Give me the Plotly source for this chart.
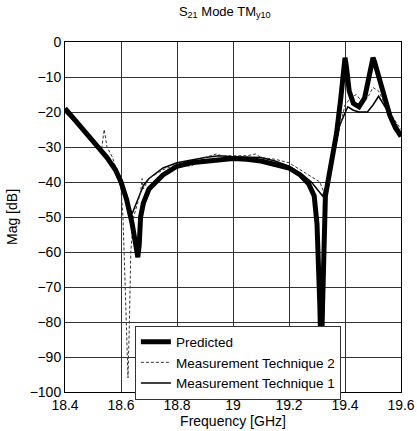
import plotly.graph_objects as go

# Predicted
pred_f = [18.40, 18.45, 18.50, 18.55, 18.58, 18.60, 18.62, 18.64, 18.655, 18.66, 18.665, 18.67,
          18.68, 18.70, 18.75, 18.80, 18.85, 18.90, 18.95, 19.00, 19.05, 19.10, 19.15, 19.20,
          19.24, 19.27, 19.29, 19.30, 19.31, 19.315, 19.32, 19.325, 19.33, 19.35, 19.37, 19.385,
          19.395, 19.40, 19.405, 19.415, 19.43, 19.45, 19.47, 19.485, 19.495, 19.50, 19.505,
          19.52, 19.54, 19.56, 19.58, 19.60]
pred_v = [-19, -23.5, -28, -33, -36.5, -40, -45, -52, -59, -61.5, -58, -50,
          -46, -42, -38, -35.5, -34.5, -34, -33.5, -33.3, -33.5, -34, -35, -36,
          -38, -40.5, -44, -52, -75, -92, -75, -50, -44, -35, -26, -16,
          -7, -4.5, -7, -14, -17.5, -18.5, -16, -10, -5.5, -4.5, -5.5,
          -10, -16, -21, -24.5, -27]

# Measurement Technique 2 (dashed)
m2_f = [18.40, 18.45, 18.50, 18.53, 18.54, 18.55, 18.57, 18.59, 18.60, 18.607, 18.615, 18.625,
        18.63, 18.635, 18.645, 18.66, 18.67, 18.675, 18.68, 18.70, 18.75, 18.80, 18.85, 18.90,
        18.94, 18.96, 19.00, 19.05, 19.08, 19.10, 19.15, 19.20, 19.25, 19.29, 19.31, 19.33,
        19.35, 19.38, 19.40, 19.42, 19.44, 19.46, 19.48, 19.50, 19.52, 19.55, 19.60]
m2_v = [-20, -24, -28.5, -31, -25, -30, -33, -38, -42, -50, -70, -96,
        -80, -60, -50, -46, -43, -39, -42, -39, -36.5, -35, -35.5, -33,
        -32, -32.5, -32.5, -32.5, -32, -33, -33.5, -34.5, -37, -39, -40, -44,
        -37, -25, -18, -16, -15, -17, -16, -13, -14, -19, -25]

# Measurement Technique 1 (solid thin)
m1_f = [18.40, 18.45, 18.50, 18.55, 18.58, 18.60, 18.62, 18.64, 18.66, 18.68, 18.70, 18.75,
        18.80, 18.90, 18.95, 19.00, 19.10, 19.15, 19.20, 19.25, 19.28, 19.30, 19.32, 19.34,
        19.36, 19.38, 19.40, 19.41, 19.43, 19.45, 19.48, 19.50, 19.52, 19.54, 19.57, 19.60]
m1_v = [-20, -24, -28.5, -33, -37, -41, -46, -49, -45, -41, -39, -36,
        -34.5, -33, -32.5, -32.8, -33, -34, -35.5, -38, -40, -42, -44, -40,
        -31, -24, -20, -18.5, -19.5, -20, -20, -18, -15.5, -18, -22, -26]

x_ticks = [18.4, 18.6, 18.8, 19.0, 19.2, 19.4, 19.6]
x_tick_labels = ["18.4", "18.6", "18.8", "19", "19.2", "19.4", "19.6"]
y_ticks = [0, -10, -20, -30, -40, -50, -60, -70, -80, -90, -100]

fig = go.Figure()
fig.add_trace(go.Scatter(x=m1_f, y=m1_v, mode="lines", name="Measurement Technique 1",
                         line=dict(color="black", width=1.5)))
fig.add_trace(go.Scatter(x=m2_f, y=m2_v, mode="lines", name="Measurement Technique 2",
                         line=dict(color="#333333", width=1, dash="3px,2px")))
fig.add_trace(go.Scatter(x=pred_f, y=pred_v, mode="lines", name="Predicted",
                         line=dict(color="black", width=5)))

font = "Liberation Sans, Arial, sans-serif"
fig.update_layout(
    width=417, height=431,
    margin=dict(l=65, r=16, t=42, b=39, autoexpand=False),
    paper_bgcolor="white", plot_bgcolor="white",
    font=dict(family=font, size=13, color="black"),
    title=dict(text="S<sub>21</sub> Mode TM<sub>y10</sub>", x=0.429, xanchor="left",
               y=0.985, yanchor="top", font=dict(size=13)),
    showlegend=True,
    legend=dict(x=0.208, y=0.19, xanchor="left", yanchor="top", traceorder="reversed",
                bgcolor="white", bordercolor="#333333", borderwidth=1,
                font=dict(size=13.5), tracegroupgap=0, itemwidth=30),
    xaxis=dict(range=[18.4, 19.6], tickvals=x_ticks, ticktext=x_tick_labels,
               showgrid=True, gridcolor="#333333", gridwidth=1,
               showline=True, linecolor="black", linewidth=1, mirror=True,
               ticks="", zeroline=False, automargin=False, tickfont=dict(size=14),
               title=dict(text="Frequency [GHz]", standoff=0, font=dict(size=14))),
    yaxis=dict(range=[-100, 0], tickvals=y_ticks,
               showgrid=True, gridcolor="#333333", gridwidth=1,
               showline=True, linecolor="black", linewidth=1, mirror=True,
               ticks="", zeroline=False, automargin=False, tickfont=dict(size=14),
               title=dict(text="Mag [dB]", standoff=8, font=dict(size=14))),
)
# remove the page's default body margin so the figure sits at the window origin
fig.write_html("out.html", config={"displayModeBar": False},
               post_script="document.body.style.margin='0';document.body.style.overflow='hidden';")
